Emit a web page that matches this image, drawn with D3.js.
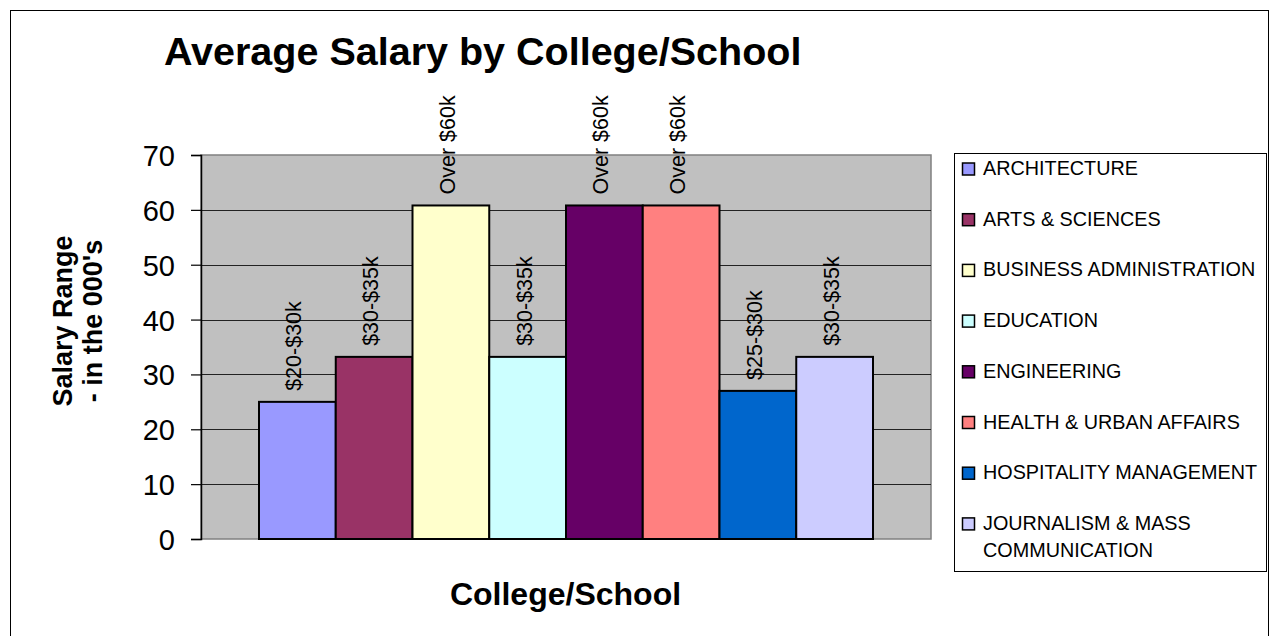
<!DOCTYPE html>
<html>
<head>
<meta charset="utf-8">
<script src="https://cdn.jsdelivr.net/npm/d3@7"></script>
<style>
  body { margin: 0; background: #fff; }
  svg { display: block; font-family: "Liberation Sans", Arial, sans-serif; }
</style>
</head>
<body>
<svg id="chart"></svg>
<script>
// Chart data
const colleges = ["ARCHITECTURE", "ARTS & SCIENCES", "BUSINESS ADMINISTRATION", "EDUCATION",
  "ENGINEERING", "HEALTH & URBAN AFFAIRS", "HOSPITALITY MANAGEMENT", "JOURNALISM & MASS COMMUNICATION"];
const salaries = [25, 33.2, 60.8, 33.2, 60.8, 60.8, 27, 33.2];
const rangeLabels = ["$20-$30k", "$30-$35k", "Over $60k", "$30-$35k", "Over $60k", "Over $60k", "$25-$30k", "$30-$35k"];
const colors = ["#9999FF", "#993366", "#FFFFCC", "#CCFFFF", "#660066", "#FF8080", "#0066CC", "#CCCCFF"];
const yTicks = [0, 10, 20, 30, 40, 50, 60, 70];
// legend lines (last entry wraps)
const legendLines = [["ARCHITECTURE"], ["ARTS & SCIENCES"], ["BUSINESS ADMINISTRATION"], ["EDUCATION"],
  ["ENGINEERING"], ["HEALTH & URBAN AFFAIRS"], ["HOSPITALITY MANAGEMENT"], ["JOURNALISM & MASS", "COMMUNICATION"]];

const width = 1270;
const height = 636;

// plot area
const plot = { left: 201, right: 931, top: 155, bottom: 539 };
const groupGap = 58; // space between plot edge and first/last bar

const svg = d3.select("#chart")
    .attr("width", width)
    .attr("height", height);

// outer chart border
svg.append("rect")
    .attr("x", 10.5).attr("y", 10.5)
    .attr("width", 1258).attr("height", 700)
    .attr("fill", "#fff")
    .attr("stroke", "#000")
    .attr("stroke-width", 1);

const y = d3.scaleLinear()
    .domain([0, 70])
    .range([plot.bottom, plot.top]);

const x = d3.scaleBand()
    .domain(colleges)
    .range([plot.left + groupGap, plot.right - groupGap])
    .padding(0);

// plot background
svg.append("rect")
    .attr("x", plot.left).attr("y", plot.top)
    .attr("width", plot.right - plot.left)
    .attr("height", plot.bottom - plot.top)
    .attr("fill", "#C0C0C0")
    .attr("stroke", "#808080")
    .attr("stroke-width", 1.5);

// gridlines
svg.selectAll(".grid")
    .data(yTicks.filter(t => t > 0 && t < 70))
    .enter().append("line")
    .attr("class", "grid")
    .attr("x1", plot.left).attr("x2", plot.right)
    .attr("y1", d => Math.round(y(d)) + 0.5)
    .attr("y2", d => Math.round(y(d)) + 0.5)
    .attr("stroke", "#222")
    .attr("stroke-width", 1);

// y axis
const yAxis = svg.append("g")
    .attr("transform", `translate(${plot.left},0)`)
    .call(d3.axisLeft(y).tickValues(yTicks).tickSize(10).tickPadding(16));
yAxis.select(".domain").attr("stroke", "#000").attr("stroke-width", 1.5);
yAxis.selectAll(".tick line").attr("stroke", "#000").attr("stroke-width", 1.2);
yAxis.selectAll(".tick text")
    .attr("font-size", 29)
    .attr("fill", "#000")
    .attr("font-family", "Liberation Sans, Arial, sans-serif")
    .attr("dy", "0.36em");

// bars
svg.selectAll(".bar")
    .data(colleges)
    .enter().append("rect")
    .attr("class", "bar")
    .attr("x", d => x(d))
    .attr("y", (d, i) => y(salaries[i]))
    .attr("width", x.bandwidth())
    .attr("height", (d, i) => y(0) - y(salaries[i]))
    .attr("fill", (d, i) => colors[i])
    .attr("stroke", "#000")
    .attr("stroke-width", 2);

// value labels, rotated
svg.selectAll(".barlabel")
    .data(colleges)
    .enter().append("text")
    .attr("class", "barlabel")
    .attr("transform", (d, i) =>
        `translate(${x(d) + x.bandwidth() / 2 + 4},${y(salaries[i]) - 11}) rotate(-90)`)
    .attr("text-anchor", "start")
    .attr("font-size", 21.5)
    .attr("fill", "#000")
    .text((d, i) => rangeLabels[i]);

// title
svg.append("text")
    .attr("x", 164).attr("y", 65)
    .attr("font-size", 39.5)
    .attr("font-weight", "bold")
    .text("Average Salary by College/School");

// x axis title
svg.append("text")
    .attr("x", (plot.left + plot.right) / 2 - 0.5).attr("y", 605)
    .attr("text-anchor", "middle")
    .attr("font-size", 32)
    .attr("font-weight", "bold")
    .text("College/School");

// y axis title (two lines)
const yTitle = svg.append("text")
    .attr("transform", "translate(72,321) rotate(-90)")
    .attr("text-anchor", "middle")
    .attr("font-size", 27)
    .attr("font-weight", "bold");
yTitle.append("tspan").attr("x", 0).attr("dy", 0).text("Salary Range");
yTitle.append("tspan").attr("x", 0).attr("dy", 30).text("- in the 000's");

// legend
const legend = svg.append("g");
legend.append("rect")
    .attr("x", 954.5).attr("y", 153.5)
    .attr("width", 312).attr("height", 418)
    .attr("fill", "#fff")
    .attr("stroke", "#000")
    .attr("stroke-width", 1);

const rowStep = 50.7;
const items = legend.selectAll(".item")
    .data(colleges)
    .enter().append("g")
    .attr("class", "item")
    .attr("transform", (d, i) => `translate(962,${175 + i * rowStep})`);

items.append("rect")
    .attr("x", 0.5).attr("y", -12)
    .attr("width", 12).attr("height", 12)
    .attr("fill", (d, i) => colors[i])
    .attr("stroke", "#000")
    .attr("stroke-width", 1.5);

items.append("text")
    .attr("x", 21)
    .attr("y", 0)
    .attr("font-size", 19.8)
    .attr("fill", "#000")
    .each(function (d, i) {
        const t = d3.select(this);
        legendLines[i].forEach((line, j) => {
            t.append("tspan").attr("x", 21).attr("dy", j === 0 ? 0 : 27).text(line);
        });
    });
</script>
</body>
</html>
